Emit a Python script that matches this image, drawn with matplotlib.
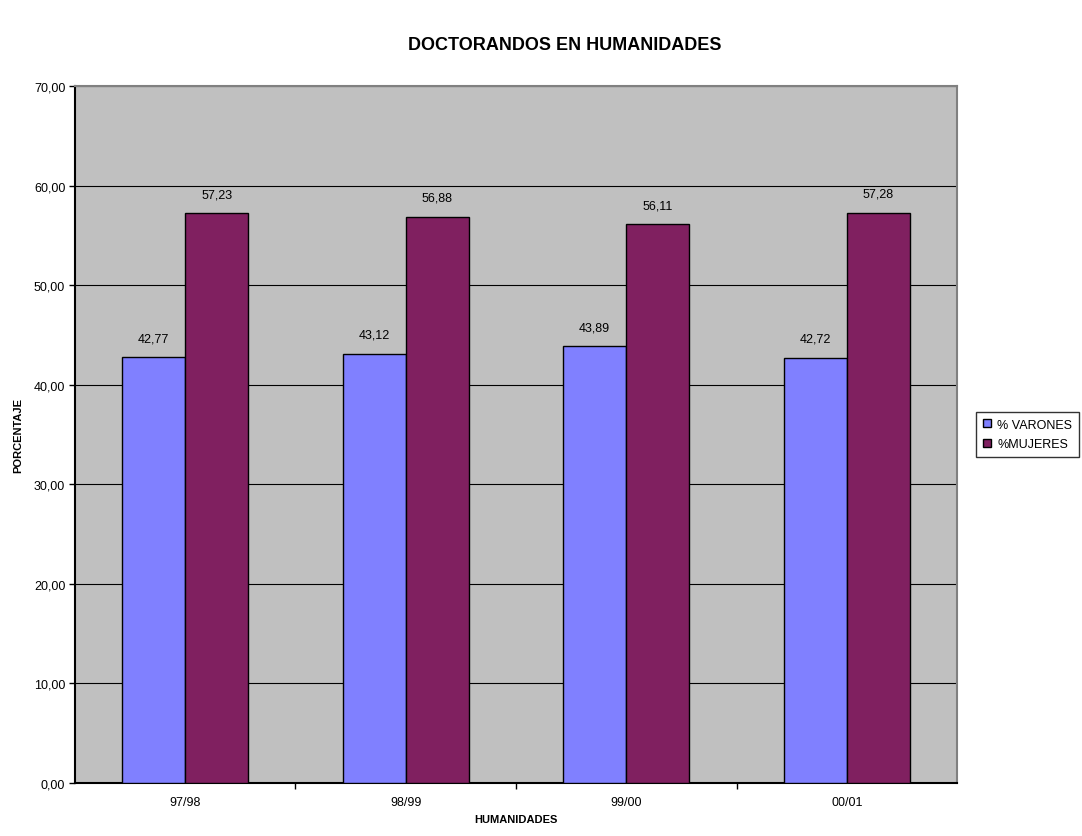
import numpy as np
import matplotlib.pyplot as plt

plt.rcParams['font.family'] = ['Liberation Sans', 'DejaVu Sans']

years = ["97/98", "98/99", "99/00", "00/01"]
varones = [42.77, 43.12, 43.89, 42.72]
mujeres = [57.23, 56.88, 56.11, 57.28]
series_names = ["% VARONES", "%MUJERES"]

fig = plt.figure(figsize=(10.82, 8.37), dpi=100)
ax = fig.add_axes([0.0693, 0.0633, 0.8152, 0.8327])
ax.set_facecolor("#C0C0C0")

x = np.arange(len(years))
w = 0.286
b1 = ax.bar(x - w / 2, varones, w, color="#8080FF", edgecolor="black", linewidth=1, label=series_names[0], zorder=3)
b2 = ax.bar(x + w / 2, mujeres, w, color="#802060", edgecolor="black", linewidth=1, label=series_names[1], zorder=3)

for bars, vals in ((b1, varones), (b2, mujeres)):
    for rect, v in zip(bars, vals):
        ax.text(rect.get_x() + rect.get_width() / 2, v + 1.3, f"{v:.2f}".replace(".", ","),
                ha="center", va="bottom", fontsize=9)

ax.set_ylim(0, 70)
ax.set_xlim(-0.5, len(years) - 0.5)
ax.set_yticks(np.arange(0, 71, 10))
ax.set_yticklabels([f"{v:.2f}".replace(".", ",") for v in np.arange(0, 71, 10)], fontsize=9)
ax.yaxis.grid(True, color="black", linewidth=0.8, zorder=1)
ax.set_axisbelow(True)

ax.set_xticks(x)
ax.set_xticklabels(years, fontsize=9)
ax.tick_params(axis="x", length=0, pad=9)
ax.set_xticks(np.arange(0.5, len(years) - 0.5, 1), minor=True)
ax.tick_params(axis="x", which="minor", length=4, width=1, direction="out")
ax.tick_params(axis="y", length=4, width=1, direction="out", pad=3)

for s in ("top", "right"):
    ax.spines[s].set_color("#808080")
    ax.spines[s].set_linewidth(1.5)
ax.spines["left"].set_linewidth(1.5)
ax.spines["bottom"].set_linewidth(1.5)

ax.set_xlabel("HUMANIDADES", fontsize=8, fontweight="bold", labelpad=5)
ax.set_ylabel("PORCENTAJE", fontsize=8, fontweight="bold", labelpad=8)
fig.text(0.522, 0.946, "DOCTORANDOS EN HUMANIDADES", fontsize=13, fontweight="bold",
         ha="center", va="center")

leg = ax.legend(loc="center left", bbox_to_anchor=(1.022, 0.5), fontsize=9, frameon=True,
                fancybox=False, edgecolor="black", handlelength=0.6, handleheight=0.6,
                handletextpad=0.5, borderpad=0.55, labelspacing=0.6, borderaxespad=0)
leg.get_frame().set_linewidth(1)

fig.savefig("out.png", dpi=100)
